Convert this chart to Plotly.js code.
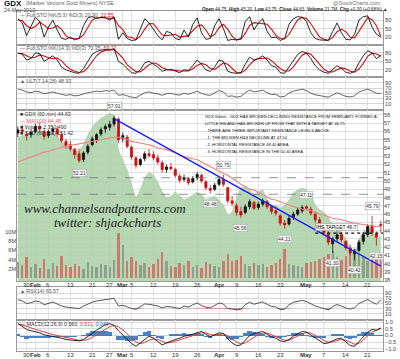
<!DOCTYPE html>
<html><head><meta charset="utf-8">
<script src="https://cdn.plot.ly/plotly-3.0.1.min.js"></script>
<style>html,body{margin:0;padding:0;background:#fff}#chart{width:400px;height:359px}</style>
</head><body><div id="chart"></div>
<script>
// ---------- DATA ----------
const days = ["Jan 26","Jan 27","Jan 30","Jan 31","Feb 1","Feb 2","Feb 3","Feb 6","Feb 7","Feb 8","Feb 9","Feb 10","Feb 13","Feb 14","Feb 15","Feb 16","Feb 17","Feb 21","Feb 22","Feb 23","Feb 24","Feb 27","Feb 28","Feb 29","Mar 1","Mar 2","Mar 5","Mar 6","Mar 7","Mar 8","Mar 9","Mar 12","Mar 13","Mar 14","Mar 15","Mar 16","Mar 19","Mar 20","Mar 21","Mar 22","Mar 23","Mar 26","Mar 27","Mar 28","Mar 29","Mar 30","Apr 2","Apr 3","Apr 4","Apr 5","Apr 9","Apr 10","Apr 11","Apr 12","Apr 13","Apr 16","Apr 17","Apr 18","Apr 19","Apr 20","Apr 23","Apr 24","Apr 25","Apr 26","Apr 27","Apr 30","May 1","May 2","May 3","May 4","May 7","May 8","May 9","May 10","May 11","May 14","May 15","May 16","May 17","May 18","May 21","May 22","May 23","May 24"];

const tickDays = ["Jan 30","Feb 1","Feb 6","Feb 13","Feb 21","Feb 27","Mar 1","Mar 5","Mar 12","Mar 19","Mar 26","Apr 2","Apr 9","Apr 16","Apr 23","May 1","May 7","May 14","May 21"];
const tickText = ["30","<b>Feb</b>","6","13","21","27","<b>Mar</b>","5","12","19","26","<b>Apr</b>","9","16","23","<b>May</b>","7","14","21"];

const gdxOpen = [55.8,56.2,55.6,55.6,56.0,56.6,56.0,55.5,56.0,56.3,55.6,54.8,54.4,53.8,53.3,52.6,53.5,54.4,55.0,55.7,56.3,56.5,56.9,57.5,55.1,55.3,54.1,52.8,52.0,52.7,53.3,53.2,52.8,52.2,51.4,51.7,51.4,50.6,50.2,50.3,49.9,50.4,50.7,49.9,49.1,49.0,49.6,50.2,49.2,47.6,47.0,46.3,46.2,46.9,47.4,46.8,47.2,47.5,46.9,46.4,45.8,44.9,44.8,45.6,46.0,46.4,46.9,46.6,46.0,45.3,44.4,43.7,42.4,43.0,43.5,42.7,41.9,41.2,41.6,42.7,43.5,44.6,43.6,44.75];
const gdxHigh = [56.6,56.8,56.0,56.3,56.9,57.0,56.4,56.2,56.6,56.7,55.9,55.1,54.9,54.0,53.9,53.6,54.5,55.4,55.8,56.5,56.9,57.3,57.91,57.7,55.9,55.6,54.3,53.0,52.8,53.6,53.9,53.6,53.2,52.5,52.0,52.2,51.6,50.9,50.8,50.5,50.6,51.1,50.9,50.1,49.5,49.8,50.5,50.75,49.3,48.2,47.3,46.9,47.2,47.8,47.6,47.5,47.9,47.7,47.1,46.9,46.0,45.3,45.8,46.3,46.8,47.1,47.11,46.9,46.3,45.6,44.8,44.0,43.2,43.9,43.8,42.9,42.3,41.8,42.9,43.8,44.8,45.79,43.9,45.20];
const gdxLow = [55.3,55.6,54.9,55.2,55.8,56.0,55.0,55.2,55.6,55.4,54.6,53.9,53.6,52.7,52.21,52.3,53.2,54.2,54.6,55.4,55.8,56.1,56.6,54.6,54.7,54.0,52.6,51.5,51.8,52.4,52.8,52.5,52.0,51.0,51.0,51.3,50.4,49.8,49.9,49.5,49.7,50.1,49.8,48.9,48.48,48.8,49.4,49.3,47.3,47.0,45.8,45.56,46.0,46.6,46.5,46.5,46.9,46.6,46.0,45.8,44.6,44.21,44.6,45.3,45.8,46.1,46.5,45.8,45.0,44.3,43.4,42.2,41.30,42.7,42.6,41.6,41.0,40.42,41.4,42.3,43.2,43.4,42.15,43.75];
const gdxClose = [56.2,56.0,55.5,55.9,56.6,56.3,55.4,56.0,56.3,55.7,54.9,54.3,53.9,53.2,52.5,53.4,54.2,55.1,55.6,56.2,56.6,56.9,57.6,55.0,55.5,54.2,52.9,51.9,52.6,53.3,53.1,52.8,52.3,51.4,51.7,51.5,50.7,50.1,50.4,49.8,50.3,50.8,50.0,49.2,48.9,49.5,50.2,49.6,47.6,47.3,46.2,45.9,46.9,47.5,46.7,47.2,47.6,46.9,46.3,46.1,44.9,44.7,45.5,46.0,46.5,46.8,46.7,46.1,45.3,44.6,43.8,42.6,43.0,43.5,42.9,41.9,41.3,41.5,42.6,43.5,44.5,43.8,43.2,44.63];
const ma100 = [52.3,52.5,52.7,52.9,53.1,53.3,53.5,53.6,53.8,53.9,54.1,54.2,54.3,54.4,54.5,54.6,54.7,54.8,54.9,55.0,55.1,55.2,55.3,55.3,55.2,55.0,54.8,54.7,54.6,54.5,54.4,54.2,54.0,53.9,53.8,53.6,53.4,53.2,53.0,52.8,52.7,52.6,52.3,52.0,51.7,51.4,51.1,50.9,50.7,50.4,50.0,49.6,49.3,49.0,48.9,48.6,48.3,48.0,47.8,47.7,47.5,47.3,47.1,46.9,46.8,46.6,46.5,46.4,46.2,46.0,45.9,45.7,45.5,45.4,45.3,45.2,45.0,44.9,44.8,44.7,44.6,44.55,44.5,44.48];
const volumeM = [3.5,2.8,4.6,2.5,3.0,2.2,4.1,2.0,3.2,2.6,4.8,2.9,2.4,3.1,2.7,2.0,3.5,2.6,2.3,3.0,2.8,2.4,3.9,9.8,7.2,3.8,4.5,3.7,2.8,3.3,2.5,3.0,4.2,5.6,3.8,2.6,2.4,3.2,2.8,3.6,2.5,2.9,2.2,3.4,3.0,2.6,2.5,3.8,5.2,3.6,4.0,4.8,3.0,2.6,3.2,2.8,3.1,2.5,2.9,3.3,4.1,6.2,3.0,2.8,2.6,2.4,3.2,3.4,3.8,4.2,4.6,5.2,5.8,4.5,4.0,4.8,5.5,6.2,5.0,4.6,3.8,4.2,5.4,4.0];
const gld = [169.6,169.9,170.1,170.4,170.8,170.8,170.2,170.1,170.4,169.9,169.0,168.5,168.0,167.7,167.4,168.5,170.1,171.3,172.1,172.7,173.1,173.5,173.2,167.7,166.1,164.5,162.2,160.1,161.4,163.3,164.2,163.7,162.6,161.1,160.1,160.4,161.1,160.4,159.8,160.1,160.6,161.1,160.6,159.8,160.1,160.4,159.8,159.0,157.4,157.9,160.1,161.7,162.0,161.4,160.6,161.1,161.4,159.8,159.0,159.0,158.5,158.9,159.8,160.9,161.4,161.7,161.4,160.6,159.0,158.2,157.9,157.0,155.9,155.4,154.8,153.5,152.2,151.1,153.5,154.8,155.1,155.4,153.5,154.1];

const sto5K = [85,70,25,55,90,75,20,55,80,45,15,12,20,10,15,60,88,92,85,90,88,80,92,12,35,15,8,10,50,85,70,45,25,10,40,35,15,10,45,20,65,88,35,12,15,60,85,50,8,12,10,15,75,92,45,70,85,40,18,20,8,15,65,85,92,90,75,35,15,10,10,8,40,70,35,12,10,30,80,92,95,55,30,20.3];
const sto5D = [80,78,60,50,57,73,62,50,52,60,47,24,16,14,15,28,54,80,88,89,88,86,87,61,46,21,19,11,23,48,68,67,47,27,25,28,30,20,23,25,43,58,63,45,21,29,53,65,48,23,10,12,33,61,71,69,67,65,48,26,15,14,29,55,81,89,86,67,42,20,12,9,19,39,48,39,19,17,40,67,89,81,60,22.55];
const sto14K = [80,75,55,60,80,78,50,60,70,55,30,20,15,10,8,25,50,75,85,90,92,90,95,50,40,25,10,8,20,45,50,40,30,15,20,22,15,10,20,18,35,55,40,20,15,30,55,50,15,10,8,10,40,65,55,60,70,55,35,30,10,8,30,55,75,85,80,60,35,20,12,8,20,35,25,12,8,15,45,70,88,80,60,70.35];
const sto14D = [78,78,70,63,65,73,69,63,60,62,52,35,22,15,11,14,28,50,70,83,89,91,92,78,62,38,25,14,13,24,38,45,40,28,22,19,19,16,15,16,24,36,43,38,25,22,33,45,40,25,11,9,19,38,53,60,62,62,53,40,25,16,16,31,53,72,80,75,58,38,22,13,13,21,27,24,15,12,23,43,68,79,76,69.22];
const ult = [66,62,55,52,58,55,48,52,55,50,45,42,45,40,42,48,52,55,58,56,60,58,62,42,45,40,35,33,42,52,55,50,48,42,48,50,45,43,50,46,52,58,50,44,42,50,60,55,38,40,35,38,52,62,55,58,62,52,45,46,36,38,50,58,62,65,60,50,44,40,38,35,45,52,45,38,36,40,55,62,66,58,50,48.93];
const rsi = [65,60,50,53,60,57,45,52,56,48,40,36,35,32,30,40,48,55,60,63,65,66,70,40,43,37,30,27,38,48,47,44,40,33,38,37,33,30,40,36,45,52,42,35,33,42,52,48,30,28,25,27,45,55,47,52,56,47,38,37,26,28,45,55,60,62,58,48,40,35,30,25,38,46,40,32,28,33,50,58,66,55,47,63.57];
const macd = [0.90,0.70,0.45,0.35,0.30,0.20,0.05,0.00,-0.05,-0.10,-0.20,-0.30,-0.35,-0.38,-0.40,-0.30,-0.10,0.15,0.40,0.60,0.80,0.88,0.75,0.35,0.05,-0.30,-0.60,-0.80,-0.55,-0.25,-0.05,-0.20,-0.45,-0.70,-0.55,-0.40,-0.30,-0.20,-0.05,0.00,0.10,0.25,0.30,0.10,-0.10,0.05,0.20,0.15,-0.25,-0.55,-0.75,-0.70,-0.35,0.00,0.15,0.25,0.30,0.10,-0.10,-0.20,-0.40,-0.45,-0.30,-0.05,0.15,0.30,0.25,0.05,-0.20,-0.40,-0.60,-0.55,-0.40,-0.25,-0.20,-0.50,-0.75,-0.80,-0.45,-0.10,0.25,0.45,0.40,0.560];
const macdSignal = [0.80,0.78,0.68,0.55,0.45,0.36,0.25,0.15,0.07,0.00,-0.07,-0.15,-0.23,-0.30,-0.35,-0.36,-0.30,-0.15,0.05,0.28,0.48,0.65,0.75,0.65,0.42,0.12,-0.20,-0.48,-0.60,-0.52,-0.35,-0.25,-0.30,-0.45,-0.55,-0.52,-0.43,-0.33,-0.22,-0.12,-0.02,0.10,0.20,0.20,0.08,0.02,0.08,0.12,-0.02,-0.25,-0.48,-0.62,-0.55,-0.35,-0.12,0.05,0.18,0.18,0.05,-0.08,-0.22,-0.35,-0.35,-0.22,-0.05,0.12,0.22,0.18,0.02,-0.18,-0.38,-0.48,-0.48,-0.38,-0.28,-0.35,-0.52,-0.65,-0.58,-0.35,-0.02,0.25,0.38,0.511];
const macdHist = [0.10,-0.08,-0.23,-0.20,-0.15,-0.16,-0.20,-0.15,-0.12,-0.10,-0.13,-0.15,-0.12,-0.08,-0.05,0.06,0.20,0.30,0.35,0.32,0.32,0.23,0.00,-0.30,-0.37,-0.42,-0.40,-0.32,0.05,0.27,0.30,0.05,-0.15,-0.25,0.00,0.12,0.13,0.13,0.17,0.12,0.12,0.15,0.10,-0.10,-0.18,0.03,0.12,0.03,-0.23,-0.30,-0.27,-0.08,0.20,0.35,0.27,0.20,0.12,-0.08,-0.15,-0.12,-0.18,-0.10,0.05,0.17,0.20,0.18,0.03,-0.13,-0.22,-0.22,-0.22,-0.07,0.08,0.13,0.08,-0.15,-0.23,-0.15,0.13,0.25,0.27,0.20,0.02,0.049];

const trendDays = ["Feb 28","May 24"];
const trendPrices = [57.55,39.7];
const resistanceLevels = [50.4, 48.4];
const necklineStart = "May 3";
const necklineLevel = 43.7;
const labelDays = ["Feb 28","Feb 15","Mar 29","Apr 3","Apr 10","Apr 24","May 1","May 9","May 16","May 22","May 23"];
const labelVals = [57.91,52.21,48.48,50.75,45.56,44.21,47.11,41.30,40.42,45.79,42.15];
const labelAbove = [true,false,false,true,false,false,true,false,false,true,false];
const rsiLow = 30;

// ---------- LAYOUT HELPERS ----------
const FONT = 'Liberation Sans, Arial, sans-serif';
const W = 400, H = 359, L = 17, R = 17;
const px = x => (x - L) / (W - L - R);
const py = y => 1 - y / H;
const dom = (top, bot) => [py(bot), py(top)];

const xBase = {type:'category', range:[-0.2,83.5], showgrid:true, gridcolor:'#e2e2e2', gridwidth:1,
  showline:true, mirror:true, linecolor:'#9a9a9a', linewidth:1, tickvals:tickDays, ticktext:tickText,
  showticklabels:false, ticks:'', fixedrange:true, automargin:false, rangeslider:{visible:false}};
const yBase = (d, range, tv) => ({domain:d, range:range, side:'right', tickvals:tv, showgrid:true,
  gridcolor:'#d8d8d8', showline:true, mirror:true, linecolor:'#9a9a9a', linewidth:1, zeroline:false,
  ticks:'', fixedrange:true, automargin:false, tickfont:{family:FONT,size:5.6,color:'#444'}});

const traces = [];
traces.push({x:days,y:sto5D,type:'scatter',mode:'lines',line:{color:'#d01010',width:1.1},xaxis:'x',yaxis:'y',hoverinfo:'skip'});
traces.push({x:days,y:sto5K,type:'scatter',mode:'lines',line:{color:'#111',width:0.9},xaxis:'x',yaxis:'y',hoverinfo:'skip'});
traces.push({x:days,y:sto14D,type:'scatter',mode:'lines',line:{color:'#d01010',width:1.1},xaxis:'x2',yaxis:'y2',hoverinfo:'skip'});
traces.push({x:days,y:sto14K,type:'scatter',mode:'lines',line:{color:'#111',width:0.9},xaxis:'x2',yaxis:'y2',hoverinfo:'skip'});
traces.push({x:days,y:ult,type:'scatter',mode:'lines',line:{color:'#555',width:0.9},xaxis:'x3',yaxis:'y3',hoverinfo:'skip'});
traces.push({x:days,y:gld,type:'scatter',mode:'lines',line:{color:'rgba(150,200,150,0.9)',width:0.5},fill:'tozeroy',fillcolor:'rgba(168,208,164,0.85)',xaxis:'x4',yaxis:'y4',hoverinfo:'skip'});
const volColors = gdxClose.map((c,i)=> c < gdxOpen[i] ? 'rgba(214,90,90,0.75)' : 'rgba(120,130,120,0.65)');
traces.push({x:days,y:volumeM,type:'bar',marker:{color:volColors,line:{width:0}},width:0.55,xaxis:'x4',yaxis:'y5',hoverinfo:'skip'});
traces.push({x:days,y:ma100,type:'scatter',mode:'lines',line:{color:'#f08080',width:1.1},xaxis:'x4',yaxis:'y6',hoverinfo:'skip'});
traces.push({x:days,open:gdxOpen,high:gdxHigh,low:gdxLow,close:gdxClose,type:'candlestick',xaxis:'x4',yaxis:'y6',
  increasing:{line:{color:'#111',width:0.8},fillcolor:'#111'},decreasing:{line:{color:'#d01010',width:0.8},fillcolor:'#d01010'},
  whiskerwidth:0,hoverinfo:'skip'});
traces.push({x:trendDays,y:trendPrices,type:'scatter',mode:'lines',line:{color:'#1a1aff',width:1.3},xaxis:'x4',yaxis:'y6',hoverinfo:'skip'});
traces.push({x:days,y:days.map(()=>rsiLow),type:'scatter',mode:'lines',line:{width:0,color:'rgba(0,0,0,0)'},xaxis:'x5',yaxis:'y7',hoverinfo:'skip'});
traces.push({x:days,y:rsi.map(v=>Math.min(v,rsiLow)),type:'scatter',mode:'lines',line:{width:0,color:'rgba(0,0,0,0)'},fill:'tonexty',fillcolor:'rgba(200,40,40,0.8)',xaxis:'x5',yaxis:'y7',hoverinfo:'skip'});
traces.push({x:days,y:rsi,type:'scatter',mode:'lines',line:{color:'#444',width:0.9},xaxis:'x5',yaxis:'y7',hoverinfo:'skip'});
traces.push({x:days,y:macdHist,type:'bar',width:1,marker:{color:'rgba(40,110,185,0.85)',line:{width:0}},xaxis:'x6',yaxis:'y8',hoverinfo:'skip'});
traces.push({x:days,y:macdSignal,type:'scatter',mode:'lines',line:{color:'#e04040',width:1},xaxis:'x6',yaxis:'y8',hoverinfo:'skip'});
traces.push({x:days,y:macd,type:'scatter',mode:'lines',line:{color:'#111',width:0.9},xaxis:'x6',yaxis:'y8',hoverinfo:'skip'});

const layout = {
  width:W, height:H, margin:{l:L,r:R,t:0,b:0}, paper_bgcolor:'#fff', plot_bgcolor:'#fff',
  showlegend:false, bargap:0, barmode:'overlay',
  xaxis:Object.assign({},xBase,{anchor:'y'}),
  xaxis2:Object.assign({},xBase,{anchor:'y2',matches:'x'}),
  xaxis3:Object.assign({},xBase,{anchor:'y3',matches:'x'}),
  xaxis4:Object.assign({},xBase,{anchor:'y4',matches:'x'}),
  xaxis5:Object.assign({},xBase,{anchor:'y7',matches:'x'}),
  xaxis6:Object.assign({},xBase,{anchor:'y8',matches:'x'}),
  yaxis:yBase(dom(11,45),[-8,112],[20,50,80]),
  yaxis2:yBase(dom(45,77),[-5,108],[20,50,80]),
  yaxis3:yBase(dom(77,110),[-14,112],[10,30,50,70,90]),
  yaxis4:Object.assign(yBase(dom(110,281),[147,174],[]),{showticklabels:false,showgrid:false}),
  yaxis5:{overlaying:'y4',side:'left',range:[-0.65,36.5],tickvals:[2,4,6,8,10],ticktext:['2M','4M','6M','8M','10M'],
    showgrid:false,showline:false,zeroline:false,ticks:'',fixedrange:true,automargin:false,tickfont:{family:FONT,size:5.5,color:'#444'}},
  yaxis6:{overlaying:'y4',side:'right',range:[37.9,58.6],dtick:1,tick0:0,showgrid:true,gridcolor:'#e0e0e0',showline:false,
    zeroline:false,ticks:'',fixedrange:true,automargin:false,tickfont:{family:FONT,size:5.6,color:'#444'}},
  yaxis7:yBase(dom(287,320),[-15,115],[10,30,50,70,90]),
  yaxis8:Object.assign(yBase(dom(320,351),[-1.15,1.15],[-1,-0.5,0,0.5,1]),{tickformat:'.1f'}),
  shapes:[], annotations:[]
};

resistanceLevels.forEach(v=>layout.shapes.push({type:'line',xref:'paper',yref:'y6',x0:0,x1:1,y0:v,y1:v,line:{color:'#777',width:0.8,dash:'dash'}}));
layout.shapes.push({type:'line',xref:'x4',yref:'y6',x0:necklineStart,x1:87.5,y0:necklineLevel,y1:necklineLevel,line:{color:'#111',width:1.2,dash:'dot'}});

const A = (x,y,text,opt={}) => layout.annotations.push(Object.assign({xref:'paper',yref:'paper',x:px(x),y:py(y),text:text,showarrow:false,
  xanchor:'left',yanchor:'middle',font:{family:FONT,size:6,color:'#333'}},opt));

tickDays.forEach((d,i)=>{
  [['x4',284.5],['x6',355]].forEach(([xr,yy])=>layout.annotations.push({xref:xr,yref:'paper',x:d,y:py(yy),text:tickText[i],showarrow:false,
    xanchor:'center',yanchor:'middle',font:{family:FONT,size:6,color:'#333'}}));
});

A(2,3.5,'<b>GDX</b>',{font:{family:FONT,size:8,color:'#111'}});
A(24,3.5,'(Market Vectors Gold Miners) NYSE',{font:{family:FONT,size:5.5,color:'#666'}});
A(2,10,'24-May-2012',{font:{family:FONT,size:5.3,color:'#444'}});
A(383,3,'@StockCharts.com',{xanchor:'right',font:{family:FONT,size:5.5,color:'#777'}});
A(200,9.5,'<b>Open</b> 44.75  <b>High</b> 45.20  <b>Low</b> 43.75  <b>Close</b> 44.63  <b>Volume</b> 21.7M  <b>Chg</b> +0.30 (+0.68%) ▲',{font:{family:FONT,size:4.6,color:'#222'}});
A(18,15,'— Full STO %K(5,3) %D(3) 20.30, <span style="color:#d01010">22.55</span>',{font:{family:FONT,size:5.2,color:'#555'}});
A(18,48.5,'— Full STO %K(14,3) %D(3) 70.35, <span style="color:#d01010">69.22</span>',{font:{family:FONT,size:5.2,color:'#555'}});
A(18,81,'▲ ULT(7,14,28) 48.93',{font:{family:FONT,size:5.2,color:'#555'}});
A(18,114,'■ GDX (60 min) 44.63',{font:{family:FONT,size:5.2,color:'#333'}});
A(18,120.5,'— MA(100) 44.48',{font:{family:FONT,size:5.2,color:'#e06060'}});
A(18,127,'■ Volume 2,351,490',{font:{family:FONT,size:5.2,color:'#333'}});
A(18,133.5,'■ GLD (60 min) 151.42',{font:{family:FONT,size:5.2,color:'#333'}});
A(18,290.5,'▲ RSI(14) 63.57',{font:{family:FONT,size:5.2,color:'#555'}});
A(18,324,'— MACD(12,26,9) 0.560, <span style="color:#e04040">0.511</span>, <span style="color:#1e64af">0.049</span>',{font:{family:FONT,size:5.2,color:'#333'}});
const notes = ["GDX 60min - GDX HAS BROKEN DECLINING RESISTANCE FROM FEBRUARY, FORMED A",
  "LITTLE IHS AND HAS BROKEN UP FROM THAT WITH A TARGET AT 46.75",
  "- THERE ARE THREE IMPORTANT RESISTANCE LEVELS ABOVE",
  "- 1. THE BROKEN H&amp;S NECKLINE AT 47.50",
  "- 2. HORIZONTAL RESISTANCE 48.40 AREA",
  "- 3. HORIZONTAL RESISTANCE IN THE 50.40 AREA"];
notes.forEach((t,i)=>A(203,117+i*6.8,t,{font:{family:FONT,size:4.1,color:'#111'}}));
A(105,208.5,'<i>www.channelsandpatterns.com</i>',{xanchor:'center',font:{family:'Liberation Serif, Times New Roman, serif',size:13,color:'#1a1a1a'}});
A(107,223,'<i>twitter: shjackcharts</i>',{xanchor:'center',font:{family:'Liberation Serif, Times New Roman, serif',size:13,color:'#1a1a1a'}});
labelDays.forEach((d,i)=>layout.annotations.push({xref:'x4',yref:'y6',x:d,y:labelVals[i],text:labelVals[i].toFixed(2),showarrow:false,
  yshift:labelAbove[i]?6:-6,yanchor:labelAbove[i]?'bottom':'top',xanchor:'center',font:{family:FONT,size:5,color:'#333'},
  bgcolor:'rgba(255,255,255,0.9)',bordercolor:'#999',borderwidth:0.5,borderpad:0.5}));
layout.annotations.push({xref:'x4',yref:'y6',x:necklineStart,y:necklineLevel,text:'IHS TARGET 46.7',showarrow:false,yshift:2,
  yanchor:'bottom',xanchor:'left',font:{family:FONT,size:5,color:'#111'},bgcolor:'rgba(255,255,255,0.85)',bordercolor:'#888',borderwidth:0.5,borderpad:0.5});

Plotly.newPlot('chart',traces,layout,{displayModeBar:false,staticPlot:true});
</script></body></html>
